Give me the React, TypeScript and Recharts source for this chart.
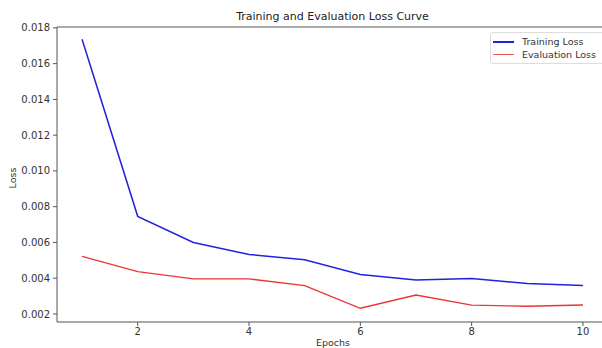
import { LineChart, Line, XAxis, YAxis, ReferenceLine } from 'recharts';

const epochs = [1, 2, 3, 4, 5, 6, 7, 8, 9, 10];
const trainingLoss = [0.01736, 0.00746, 0.006, 0.00533, 0.00503, 0.00421, 0.0039, 0.00398, 0.0037, 0.00359];
const evalLoss = [0.00522, 0.00437, 0.00396, 0.00396, 0.00358, 0.00232, 0.00306, 0.00249, 0.00243, 0.0025];
const xTicks = [2, 4, 6, 8, 10];
const yTicks = [0.002, 0.004, 0.006, 0.008, 0.01, 0.012, 0.014, 0.016, 0.018];

const data = epochs.map((e, i) => ({ epoch: e, train: trainingLoss[i], eval: evalLoss[i] }));

const font = '"DejaVu Sans", sans-serif';
const axisColor = '#555';
const tickStyle = { fontSize: 10, fill: '#333', fontFamily: font };
const yMax = 0.01805;

const LegendBox = () => (
  <div
    style={{
      position: 'absolute',
      left: 490,
      top: 32,
      border: '1px solid #ddd',
      borderRadius: 3,
      background: '#fff',
      padding: '2px 8px 2px 2px',
      fontFamily: font,
      fontSize: 9.5,
      color: '#333',
      lineHeight: '13px',
      whiteSpace: 'nowrap',
    }}
  >
    <div style={{ display: 'flex', alignItems: 'center' }}>
      <span style={{ display: 'inline-block', width: 21, height: 0, borderTop: '2px solid #2222dd', marginRight: 8 }} />
      Training Loss
    </div>
    <div style={{ display: 'flex', alignItems: 'center' }}>
      <span style={{ display: 'inline-block', width: 21, height: 0, borderTop: '1px solid #ee5555', marginRight: 8 }} />
      Evaluation Loss
    </div>
  </div>
);

export default function App() {
  return (
    <div style={{ position: 'absolute', left: 0, top: 0, width: 602, height: 348, overflow: 'hidden', background: '#fff' }}>
      <div
        style={{
          position: 'absolute',
          top: 10,
          left: 57,
          width: 551,
          textAlign: 'center',
          fontFamily: font,
          fontSize: 11,
          color: '#222',
        }}
      >
        Training and Evaluation Loss Curve
      </div>
      <div
        style={{
          position: 'absolute',
          left: 12,
          top: 178,
          transform: 'translate(-50%, -50%) rotate(-90deg)',
          fontFamily: font,
          fontSize: 9.5,
          color: '#333',
        }}
      >
        Loss
      </div>
      <div
        style={{
          position: 'absolute',
          left: 333,
          top: 337,
          transform: 'translateX(-50%)',
          fontFamily: font,
          fontSize: 9.5,
          color: '#333',
        }}
      >
        Epochs
      </div>
      <LineChart width={610} height={348} data={data} margin={{ top: 27, right: 2, left: 0, bottom: 0 }}>
        <XAxis
          dataKey="epoch"
          type="number"
          domain={[0.55, 10.45]}
          ticks={xTicks}
          allowDataOverflow
          height={26}
          tick={tickStyle}
          tickSize={4}
          tickMargin={2}
          stroke={axisColor}
        />
        <YAxis
          type="number"
          domain={[0.00155, yMax]}
          ticks={yTicks}
          allowDataOverflow
          width={57}
          tick={tickStyle}
          tickSize={4}
          tickMargin={3}
          tickFormatter={(v: number) => v.toFixed(3)}
          stroke={axisColor}
        />
        <ReferenceLine y={yMax} stroke={axisColor} strokeWidth={1} />
        <Line type="linear" dataKey="train" name="Training Loss" stroke="#2222dd" strokeWidth={1.5} dot={false} isAnimationActive={false} />
        <Line type="linear" dataKey="eval" name="Evaluation Loss" stroke="#ee3333" strokeWidth={1.3} dot={false} isAnimationActive={false} />
      </LineChart>
      <LegendBox />
    </div>
  );
}
